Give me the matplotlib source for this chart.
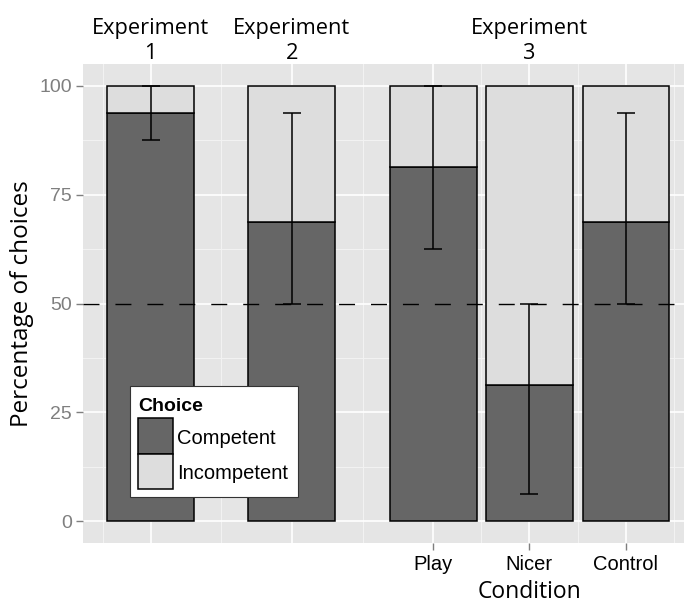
"""
Percentage of competent / incompetent choices per condition (three experiments).
Stacked bars, error bars and a 50% chance line, old ggplot2 grey look.

Output: out.png
"""

import matplotlib
matplotlib.use("Agg")
import matplotlib.pyplot as plt
import matplotlib.patches as mpatches
import matplotlib.transforms as mtransforms

# ==================== data ====================

EXPERIMENTS = ["Experiment\n1", "Experiment\n2", "Experiment\n3"]
CONDITIONS = ["", "", "Play", "Nicer", "Control"]
COMPETENT = [93.75, 68.75, 81.25, 31.25, 68.75]
ERR_LOW = [87.5, 50.0, 62.5, 6.25, 50.0]
ERR_HIGH = [100.0, 93.75, 100.0, 50.0, 93.75]
CHANCE = 50
LEGEND_TITLE = "Choice"
LEGEND_LABELS = ["Competent", "Incompetent"]

# ==================== layout / style ====================

W, H = 684, 603
X_POS = [0.0, 1.466, 2.938, 3.936, 4.94]      # bar centres
LABEL_BAR = [0, 1, 3]                          # bar under each experiment label
MINOR_X = [-0.5, 0.733, 2.202, 3.437, 4.438, 5.44]
BAR_W = 0.9

COL_COMP = "#666666"
COL_INCOMP = "#DDDDDD"
COL_PANEL = "#E5E5E5"
COL_MINOR = "#F2F2F2"
COL_AXTXT = "#7F7F7F"

HUMANIST = ["Open Sans", "DejaVu Sans"]
GROTESK = ["Liberation Sans", "DejaVu Sans"]

plt.rcParams["lines.scale_dashes"] = False


def fx(px):
    return px / W


def fy(py):
    return 1 - py / H


def draw_legend(fig) -> None:
    """ggplot 風の凡例を図の座標で手描きする"""
    # 枠
    fig.add_artist(mpatches.Rectangle(
        (fx(130), fy(497)), fx(168), 111 / H, transform=fig.transFigure,
        facecolor="white", edgecolor="#333333", linewidth=0.8, zorder=5))
    fig.text(fx(138), fy(411), LEGEND_TITLE, family=GROTESK, fontsize=14,
             fontweight="bold", ha="left", va="baseline", zorder=6)
    for i, (lab, col) in enumerate(zip(LEGEND_LABELS, [COL_COMP, COL_INCOMP])):
        top = 418 + i * 35.5
        fig.add_artist(mpatches.Rectangle(
            (fx(138), fy(top + 35.5)), fx(35), 35.5 / H, transform=fig.transFigure,
            facecolor=col, edgecolor="black", linewidth=1.1, zorder=6))
        fig.text(fx(177), fy(top + 18), lab, family=GROTESK, fontsize=14.5,
                 ha="left", va="center_baseline", zorder=6)


def main() -> None:
    fig = plt.figure(figsize=(W / 100, H / 100), dpi=100)
    ax = fig.add_axes([fx(83), fy(543), fx(601), 479 / H])
    ax.set_facecolor(COL_PANEL)
    for s in ax.spines.values():
        s.set_visible(False)

    ax.set_xlim(-0.704, 5.544)
    ax.set_ylim(-5, 105)

    # ---- grid ----
    for x in MINOR_X:
        ax.axvline(x, color=COL_MINOR, lw=0.8, zorder=0)
    for y in [12.5, 37.5, 62.5, 87.5]:
        ax.axhline(y, color=COL_MINOR, lw=0.8, zorder=0)
    for x in X_POS:
        ax.axvline(x, color="white", lw=1.2, zorder=0)
    for y in [0, 25, 50, 75, 100]:
        ax.axhline(y, color="white", lw=1.2, zorder=0)

    # ---- stacked bars ----
    incompetent = [100 - c for c in COMPETENT]
    ax.bar(X_POS, COMPETENT, width=BAR_W, color=COL_COMP,
           edgecolor="black", linewidth=1.1, zorder=2)
    ax.bar(X_POS, incompetent, bottom=COMPETENT, width=BAR_W, color=COL_INCOMP,
           edgecolor="black", linewidth=1.1, zorder=2)

    # ---- error bars ----
    yerr = [[c - lo for c, lo in zip(COMPETENT, ERR_LOW)],
            [hi - c for c, hi in zip(COMPETENT, ERR_HIGH)]]
    ax.errorbar(X_POS, COMPETENT, yerr=yerr, fmt="none", ecolor="black",
                elinewidth=1.1, capsize=6.5, capthick=1.1, zorder=3)

    # ---- chance line ----
    ax.axhline(CHANCE, color="black", lw=1.0, linestyle=(0, (11.5, 11.5)), zorder=4)

    # ---- axes ----
    ax.set_yticks([0, 25, 50, 75, 100])
    ax.set_yticklabels(["0", "25", "50", "75", "100"], family=GROTESK,
                       fontsize=14, color=COL_AXTXT)
    ax.tick_params(axis="y", length=5, width=1, color=COL_AXTXT, pad=3)

    ax.set_xticks(X_POS[2:])
    ax.set_xticklabels(CONDITIONS[2:], family=GROTESK, fontsize=14.5, color="black")
    ax.tick_params(axis="x", length=5, width=1, color=COL_AXTXT, pad=4)

    ax.set_ylabel("Percentage of choices", family=HUMANIST, fontsize=17.5, labelpad=4)

    blend = mtransforms.blended_transform_factory(ax.transData, ax.transAxes)
    ax.annotate("Condition", xy=(X_POS[3], 0), xycoords=blend,
                xytext=(0, -39.5), textcoords="offset points",
                ha="center", va="baseline", family=HUMANIST, fontsize=16.5)

    # ---- experiment labels on top ----
    for label, i in zip(EXPERIMENTS, LABEL_BAR):
        ax.annotate(label, xy=(X_POS[i], 1), xycoords=blend,
                    xytext=(0, 3.6), textcoords="offset points",
                    ha="center", va="baseline", family=HUMANIST,
                    fontsize=15.7, linespacing=1.22, annotation_clip=False)

    draw_legend(fig)

    fig.savefig("out.png", dpi=100, facecolor="white")
    plt.close(fig)


if __name__ == "__main__":
    main()
